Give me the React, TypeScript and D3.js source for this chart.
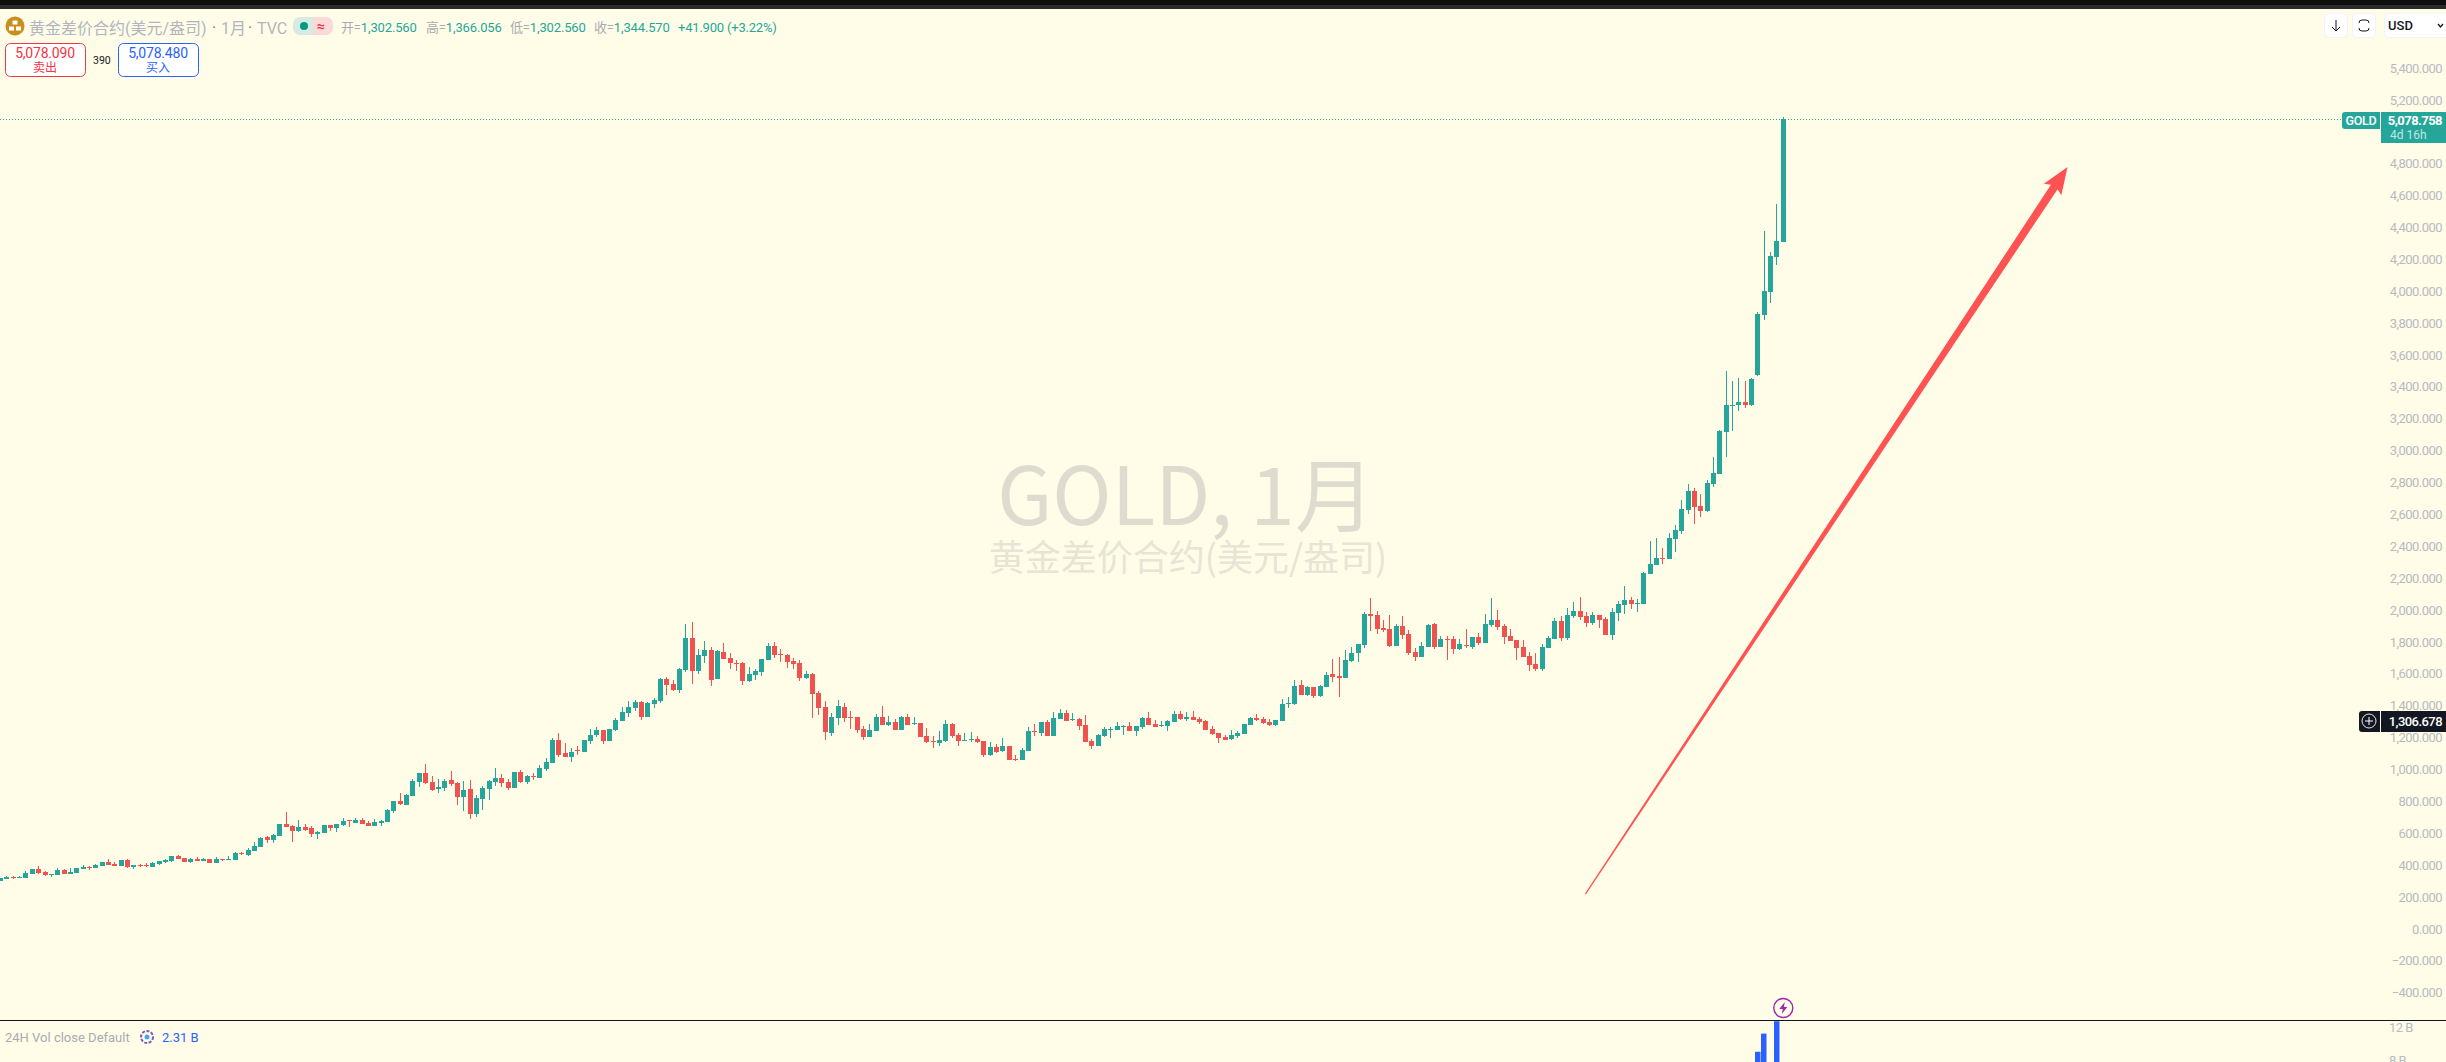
import { useEffect, useRef } from 'react';
import * as d3 from 'd3';

const WIDTH = 2446;
const HEIGHT = 1062;
const BG = '#fffde8';
const UP = '#26a69a';
const DOWN = '#ef5350';
const AXIS_TEXT = '#b8bac2';
const FONT = 'Roboto, "Noto Sans CJK SC", sans-serif';
const CJK = '"Noto Sans CJK SC", sans-serif';

// monthly candles
const opens = [
  300, 312, 327, 319, 319, 344, 375, 356, 338, 338,
  369, 344, 350, 375, 390, 381, 394, 419, 406, 394,
  432, 388, 400, 400, 388, 406, 419, 425, 457, 444,
  419, 438, 425, 438, 413, 438, 432, 432, 475, 463,
  488, 513, 576, 557, 582, 657, 645, 613, 638, 632,
  595, 601, 651, 632, 651, 680, 664, 682, 664, 645,
  664, 670, 739, 802, 777, 833, 921, 977, 921, 877,
  883, 933, 915, 827, 877, 720, 814, 877, 921,
  946, 921, 883, 984, 921, 961, 946, 1003, 1040, 1185,
  1103, 1078, 1122, 1109, 1178, 1216, 1247, 1178, 1247, 1304,
  1354, 1385, 1423, 1329, 1410, 1429, 1567, 1536, 1498, 1624,
  1824, 1617, 1711, 1749, 1567, 1737, 1699, 1668, 1668, 1555,
  1592, 1611, 1686, 1774, 1724, 1718, 1680, 1668, 1573, 1599,
  1479, 1392, 1228, 1323, 1392, 1329, 1329, 1253, 1203, 1241,
  1329, 1279, 1297, 1247, 1329, 1285, 1291, 1210, 1178, 1166,
  1178, 1285, 1216, 1178, 1185, 1191, 1178, 1090, 1140, 1116,
  1147, 1065, 1059, 1116, 1241, 1228, 1297, 1210, 1316, 1354,
  1310, 1316, 1279, 1178, 1147, 1210, 1247, 1247, 1266, 1272,
  1241, 1266, 1322, 1285, 1272, 1272, 1297, 1348, 1316, 1329,
  1316, 1304, 1253, 1228, 1203, 1191, 1209, 1222, 1279, 1322,
  1316, 1297, 1279, 1304, 1410, 1410, 1530, 1467, 1517, 1460,
  1517, 1598, 1586, 1573, 1680, 1730, 1780, 1975, 1969, 1887,
  1881, 1774, 1900, 1849, 1737, 1705, 1768, 1912, 1768, 1818,
  1818, 1755, 1780, 1768, 1831, 1793, 1906, 1937, 1900, 1837,
  1812, 1768, 1711, 1661, 1630, 1762, 1818, 1931, 1824, 1962,
  1994, 1962, 1918, 1969, 1944, 1843, 1981, 2031, 2063, 2038,
  2038, 2227, 2283, 2328, 2321, 2446, 2496, 2628, 2747, 2653,
  2621, 2791, 2854, 3116, 3280, 3286, 3304, 3286, 3475, 3851,
  3994, 4214, 4308,
];

const highs = [
  319, 331, 331, 331, 362, 375, 394, 363, 344, 381,
  375, 381, 381, 400, 394, 406, 419, 438, 419, 432,
  438, 400, 406, 413, 419, 425, 438, 457, 463, 444,
  444, 450, 444, 438, 450, 438, 457, 482, 482, 507,
  544, 576, 582, 595, 657, 732, 651, 682, 657, 645,
  613, 651, 651, 657, 695, 682, 695, 695, 676, 689,
  682, 751, 802, 852, 846, 940, 977, 1034, 958, 940,
  940, 990, 921, 927, 933, 839, 896, 933, 1009,
  971, 940, 984, 996, 965, 977, 1028, 1072, 1197, 1228,
  1166, 1134, 1147, 1185, 1254, 1266, 1247, 1254, 1323, 1392,
  1429, 1436, 1429, 1423, 1448, 1573, 1580, 1561, 1636, 1912,
  1925, 1755, 1806, 1768, 1749, 1793, 1730, 1686, 1674, 1642,
  1630, 1693, 1793, 1799, 1755, 1724, 1699, 1686, 1617, 1605,
  1492, 1429, 1354, 1436, 1417, 1366, 1329, 1272, 1285, 1348,
  1398, 1335, 1314, 1335, 1348, 1329, 1291, 1260, 1210, 1241,
  1310, 1291, 1228, 1228, 1235, 1210, 1178, 1172, 1160, 1197,
  1147, 1090, 1134, 1266, 1285, 1297, 1310, 1360, 1379, 1373,
  1354, 1323, 1341, 1191, 1222, 1266, 1266, 1297, 1279, 1297,
  1272, 1329, 1360, 1310, 1304, 1310, 1366, 1366, 1360, 1366,
  1329, 1310, 1272, 1228, 1216, 1247, 1241, 1285, 1329, 1348,
  1329, 1316, 1310, 1442, 1454, 1561, 1561, 1523, 1517, 1530,
  1611, 1693, 1705, 1749, 1768, 1787, 1987, 2075, 1994, 1937,
  1969, 1912, 1962, 1875, 1762, 1799, 1912, 1918, 1837, 1837,
  1837, 1818, 1881, 1831, 1856, 1975, 2075, 2000, 1912, 1881,
  1812, 1812, 1737, 1730, 1787, 1837, 1950, 1962, 2013, 2050,
  2082, 1987, 1987, 1969, 1956, 2013, 2056, 2150, 2082, 2069,
  2238, 2433, 2453, 2390, 2484, 2534, 2690, 2791, 2767, 2729,
  2816, 2959, 3132, 3499, 3436, 3457, 3436, 3457, 3869, 4377,
  4245, 4547, 5092,
];

const lows = [
  300, 312, 312, 319, 319, 344, 344, 331, 325, 338,
  344, 344, 350, 375, 369, 381, 394, 400, 394, 394,
  381, 375, 388, 388, 388, 400, 413, 419, 438, 419,
  413, 425, 425, 413, 413, 425, 432, 432, 463, 457,
  488, 513, 538, 538, 582, 638, 544, 607, 613, 576,
  563, 601, 613, 607, 645, 638, 664, 657, 645, 645,
  645, 670, 726, 777, 777, 833, 889, 908, 864, 852,
  864, 896, 777, 739, 689, 701, 745, 808, 896,
  890, 871, 883, 915, 909, 934, 946, 990, 1040, 1078,
  1078, 1047, 1090, 1109, 1159, 1203, 1159, 1178, 1241, 1304,
  1329, 1366, 1310, 1329, 1385, 1417, 1467, 1492, 1479, 1611,
  1536, 1599, 1668, 1523, 1567, 1693, 1630, 1617, 1530, 1548,
  1561, 1586, 1686, 1699, 1674, 1636, 1630, 1555, 1567, 1323,
  1341, 1185, 1210, 1279, 1297, 1253, 1228, 1185, 1203, 1241,
  1279, 1272, 1247, 1247, 1279, 1279, 1203, 1166, 1134, 1147,
  1172, 1197, 1147, 1178, 1172, 1166, 1078, 1084, 1103, 1109,
  1059, 1053, 1059, 1116, 1210, 1210, 1210, 1210, 1316, 1304,
  1304, 1247, 1172, 1128, 1147, 1203, 1197, 1247, 1216, 1241,
  1210, 1253, 1279, 1266, 1266, 1241, 1297, 1310, 1304, 1310,
  1285, 1247, 1216, 1166, 1184, 1184, 1197, 1222, 1279, 1304,
  1285, 1272, 1272, 1304, 1385, 1404, 1467, 1460, 1448, 1454,
  1517, 1548, 1454, 1573, 1674, 1674, 1762, 1868, 1849, 1862,
  1768, 1774, 1818, 1718, 1680, 1705, 1768, 1755, 1768, 1686,
  1724, 1749, 1762, 1755, 1780, 1793, 1893, 1875, 1787, 1806,
  1686, 1705, 1617, 1617, 1617, 1762, 1818, 1806, 1812, 1950,
  1937, 1893, 1906, 1887, 1843, 1812, 1931, 1975, 2006, 1987,
  2038, 2227, 2283, 2290, 2321, 2364, 2478, 2603, 2540, 2583,
  2614, 2771, 2854, 2959, 3123, 3248, 3268, 3280, 3468, 3819,
  3927, 4164, 4308,
];

const closes = [
  319, 325, 321, 325, 350, 375, 350, 338, 344, 369,
  344, 356, 381, 388, 383, 400, 419, 400, 394, 432,
  388, 400, 394, 394, 413, 425, 432, 457, 438, 419,
  438, 425, 438, 413, 438, 432, 438, 475, 469, 494,
  519, 570, 557, 588, 657, 638, 613, 638, 620, 595,
  607, 651, 632, 657, 676, 674, 682, 657, 645, 670,
  676, 745, 802, 783, 839, 927, 977, 915, 871, 889,
  927, 908, 827, 871, 720, 821, 883, 927, 946,
  915, 883, 984, 921, 959, 955, 1009, 1046, 1185, 1090,
  1078, 1109, 1116, 1185, 1216, 1247, 1178, 1254, 1310, 1360,
  1392, 1423, 1329, 1417, 1435, 1567, 1530, 1498, 1630, 1824,
  1617, 1718, 1749, 1561, 1743, 1693, 1668, 1661, 1555, 1599,
  1617, 1693, 1774, 1718, 1718, 1674, 1661, 1573, 1599, 1473,
  1385, 1235, 1329, 1398, 1323, 1323, 1247, 1203, 1247, 1329,
  1279, 1297, 1247, 1329, 1279, 1291, 1203, 1172, 1172, 1185,
  1285, 1210, 1178, 1185, 1191, 1172, 1090, 1140, 1109, 1147,
  1059, 1059, 1122, 1241, 1235, 1297, 1210, 1323, 1354, 1304,
  1316, 1272, 1172, 1147, 1216, 1253, 1253, 1272, 1272, 1241,
  1272, 1322, 1279, 1266, 1279, 1304, 1348, 1316, 1329, 1310,
  1297, 1247, 1222, 1197, 1184, 1216, 1228, 1285, 1322, 1310,
  1291, 1279, 1310, 1410, 1417, 1523, 1467, 1517, 1460, 1523,
  1592, 1580, 1573, 1686, 1730, 1787, 1975, 1962, 1881, 1875,
  1774, 1900, 1843, 1730, 1705, 1774, 1906, 1768, 1818, 1812,
  1755, 1787, 1774, 1831, 1793, 1912, 1937, 1893, 1831, 1806,
  1762, 1705, 1655, 1630, 1768, 1824, 1931, 1824, 1969, 1994,
  1956, 1918, 1969, 1937, 1843, 1987, 2038, 2063, 2038, 2044,
  2232, 2290, 2328, 2321, 2453, 2502, 2635, 2747, 2646, 2621,
  2798, 2861, 3123, 3286, 3286, 3304, 3286, 3450, 3858, 4001,
  4220, 4314, 5078,
];

// only the last few volume bars show in the lower pane
const volumeIndex = [277, 278, 280];
const volumeValues = [9.0e9, 11.2e9, 12.7e9];
const volumeTicks = [8e9, 12e9];

const priceTicks = d3.range(-400, 5401, 200);
const lastPrice = 5078.758;
const crossPrice = 1306.678;

// trend arrow, as [bar index, price]
const arrowStart = [249.8, 218];
const arrowTip = [325.8, 4779];

const ohlcLine = [
  ['开=', '1,302.560', 341],
  ['高=', '1,366.056', 426],
  ['低=', '1,302.560', 510],
  ['收=', '1,344.570', 594],
];

export default function App() {
  const ref = useRef<SVGSVGElement | null>(null);

  useEffect(() => {
    const svg = d3.select(ref.current);
    svg.selectAll('*').remove();

    const x = d3.scaleLinear().domain([0, opens.length - 1]).range([0.6, 1783.3]);
    const y = d3.scaleLinear().domain([5400, -400]).range([68, 992.6]);
    const yVol = d3.scaleLinear().domain([12e9, 8e9]).range([1027, 1060]);

    svg.append('rect').attr('width', WIDTH).attr('height', HEIGHT).attr('fill', BG);

    // dark strip along the top of the window
    svg.append('rect').attr('width', WIDTH).attr('height', 5).attr('fill', '#0e0e0e');
    svg.append('rect').attr('y', 5).attr('width', WIDTH).attr('height', 4).attr('fill', '#2a2a2c');

    // watermark
    svg.append('text')
      .attr('x', 1186).attr('y', 525).attr('text-anchor', 'middle')
      .attr('font-family', CJK).attr('font-size', 80).attr('fill', '#dddccf')
      .text('GOLD, 1月');
    svg.append('text')
      .attr('x', 1188).attr('y', 571).attr('text-anchor', 'middle')
      .attr('font-family', CJK).attr('font-size', 36).attr('fill', '#e6e5d6')
      .text('黄金差价合约(美元/盎司)');

    // last price line
    svg.append('line')
      .attr('x1', 0).attr('x2', 2342)
      .attr('y1', Math.round(y(lastPrice)) + 0.5).attr('y2', Math.round(y(lastPrice)) + 0.5)
      .attr('stroke', UP).attr('stroke-dasharray', '1 2');

    // candles
    const candles = d3.range(opens.length);
    const color = (i: number) => (closes[i] >= opens[i] ? UP : DOWN);
    const plot = svg.append('g');

    plot.selectAll('rect.wick').data(candles).join('rect')
      .attr('class', 'wick')
      .attr('x', (i) => Math.round(x(i) - 0.5))
      .attr('width', 1)
      .attr('y', (i) => Math.round(y(highs[i])))
      .attr('height', (i) => Math.max(1, Math.round(y(lows[i])) - Math.round(y(highs[i]))))
      .attr('fill', color);

    plot.selectAll('rect.body').data(candles).join('rect')
      .attr('class', 'body')
      .attr('x', (i) => Math.round(x(i) - 2.5))
      .attr('width', 5)
      .attr('y', (i) => Math.round(y(Math.max(opens[i], closes[i]))))
      .attr('height', (i) => Math.max(1, Math.round(y(Math.min(opens[i], closes[i]))) - Math.round(y(Math.max(opens[i], closes[i])))))
      .attr('fill', color);

    // hand drawn arrow, thin at the start and swelling towards the head
    const p0 = [x(arrowStart[0]), y(arrowStart[1])];
    const p1 = [x(arrowTip[0]), y(arrowTip[1])];
    const len = Math.hypot(p1[0] - p0[0], p1[1] - p0[1]);
    const ux = (p1[0] - p0[0]) / len;
    const uy = (p1[1] - p0[1]) / len;
    const at = (along: number, side: number) => [
      p1[0] - ux * along - uy * side,
      p1[1] - uy * along + ux * side,
    ] as [number, number];
    const arrow: [number, number][] = [
      at(len, 0.6), at(24, 4), at(27, 10.5), p1 as [number, number], at(27, -10.5), at(24, -4), at(len, -0.6),
    ];
    svg.append('path')
      .attr('d', d3.line()(arrow) + 'Z')
      .attr('fill', '#ff5252');

    // price scale
    const axis = svg.append('g')
      .attr('transform', 'translate(2442,0)')
      .call(d3.axisRight(y).tickValues(priceTicks).tickSize(0).tickFormat(d3.format(',.3f') as any));
    axis.select('.domain').remove();
    axis.selectAll('text')
      .attr('x', 0).attr('text-anchor', 'end')
      .attr('font-family', FONT).attr('font-size', 13).attr('letter-spacing', '-0.55px')
      .attr('fill', AXIS_TEXT);

    // last price tag
    svg.append('rect').attr('x', 2381).attr('y', 112).attr('width', 65).attr('height', 31).attr('fill', UP);
    svg.append('path').attr('d', 'M2380 112H2345a3 3 0 0 0 -3 3V126a3 3 0 0 0 3 3H2380Z').attr('fill', UP);
    svg.append('text').attr('x', 2361).attr('y', 125).attr('text-anchor', 'middle')
      .attr('font-family', FONT).attr('font-size', 12.5).attr('font-weight', 500).attr('letter-spacing', '-0.3px').attr('fill', '#fff')
      .text('GOLD');
    svg.append('text').attr('x', 2442).attr('y', 124.5).attr('text-anchor', 'end')
      .attr('font-family', FONT).attr('font-size', 13).attr('font-weight', 700).attr('letter-spacing', '-0.55px').attr('fill', '#fff')
      .text('5,078.758');
    svg.append('text').attr('x', 2390).attr('y', 138.5)
      .attr('font-family', FONT).attr('font-size', 12).attr('fill', '#bfe6e1')
      .text('4d 16h');

    // crosshair price tag
    const crossY = Math.round(y(crossPrice));
    svg.append('rect').attr('x', 2381).attr('y', crossY - 10).attr('width', 65).attr('height', 21).attr('fill', '#131722');
    svg.append('path').attr('d', `M2380 ${crossY - 10}H2362a3 3 0 0 0 -3 3V${crossY + 8}a3 3 0 0 0 3 3H2380Z`).attr('fill', '#131722');
    svg.append('circle').attr('cx', 2369).attr('cy', crossY).attr('r', 7).attr('fill', 'none').attr('stroke', '#e8e8e8');
    svg.append('path').attr('d', `M2365 ${crossY}H2373M2369 ${crossY - 4}V${crossY + 4}`).attr('stroke', '#fff');
    svg.append('text').attr('x', 2442).attr('y', crossY + 5).attr('text-anchor', 'end')
      .attr('font-family', FONT).attr('font-size', 13).attr('font-weight', 500).attr('letter-spacing', '-0.55px').attr('fill', '#fff')
      .text('1,306.678');

    // volume pane
    svg.append('rect').attr('x', 0).attr('y', 1020).attr('width', WIDTH).attr('height', 1).attr('fill', '#14171f');
    svg.selectAll('rect.vol').data(volumeIndex).join('rect')
      .attr('class', 'vol')
      .attr('x', (d) => Math.round(x(d) - 3))
      .attr('width', 5.5)
      .attr('y', (_, i) => Math.max(1021, yVol(volumeValues[i])))
      .attr('height', (_, i) => HEIGHT - Math.max(1021, yVol(volumeValues[i])))
      .attr('fill', '#2962ff');
    const volAxis = svg.append('g')
      .attr('transform', 'translate(2389,0)')
      .call(d3.axisRight(yVol).tickValues(volumeTicks).tickSize(0).tickFormat(((d: number) => `${d / 1e9} B`) as any));
    volAxis.select('.domain').remove();
    volAxis.selectAll('text')
      .attr('x', 0).attr('font-family', FONT).attr('font-size', 13).attr('letter-spacing', '-0.5px').attr('fill', AXIS_TEXT);

    // lightning marker over the last bar
    const bolt = svg.append('g').attr('transform', `translate(${x(opens.length - 1)},1008)`);
    bolt.append('circle').attr('r', 9.5).attr('fill', BG).attr('stroke', '#9c27b0').attr('stroke-width', 1.4);
    bolt.append('path').attr('d', 'M1.5 -6L-4 1H-0.5L-1.5 6L4 -1H0.5Z').attr('fill', '#9c27b0');

    svg.append('text').attr('x', 5).attr('y', 1042)
      .attr('font-family', FONT).attr('font-size', 13).attr('fill', '#a9abb3')
      .text('24H Vol close Default');
    svg.append('circle').attr('cx', 147).attr('cy', 1037).attr('r', 6).attr('fill', 'none').attr('stroke', '#7e57c2').attr('stroke-width', 2).attr('stroke-dasharray', '3 1.5');
    svg.append('circle').attr('cx', 147).attr('cy', 1037).attr('r', 2.5).attr('fill', '#42a5f5');
    svg.append('text').attr('x', 162).attr('y', 1042)
      .attr('font-family', FONT).attr('font-size', 13).attr('fill', '#2962ff')
      .text('2.31 B');

    // header line
    const head = svg.append('g');
    head.append('circle').attr('cx', 15).attr('cy', 26).attr('r', 9.5).attr('fill', '#c98f1c');
    head.selectAll('rect.ingot').data([[12.5, 20.5], [9, 26.5], [16, 26.5]]).join('rect')
      .attr('class', 'ingot')
      .attr('x', (d) => d[0]).attr('y', (d) => d[1]).attr('width', 5).attr('height', 4).attr('fill', '#fff');
    const label = (t: string, xPos: number, yPos: number, fill: string, size = 13) =>
      head.append('text').attr('x', xPos).attr('y', yPos)
        .attr('font-family', FONT).attr('font-size', size).attr('fill', fill).text(t);
    label('黄金差价合约(美元/盎司)', 29, 34, '#b2b5be', 16);
    label('·', 212, 33, '#787b86', 16);
    label('1月', 221, 34, '#b2b5be', 16);
    label('·', 248, 33, '#787b86', 16);
    label('TVC', 257, 34, '#b2b5be', 16);

    head.append('path').attr('d', 'M313 17H300a7 7 0 0 0 -7 7V28a7 7 0 0 0 7 7H313Z').attr('fill', '#d6ebe2');
    head.append('path').attr('d', 'M313 17H326a7 7 0 0 1 7 7V28a7 7 0 0 1 -7 7H313Z').attr('fill', '#fbd9d8');
    head.append('circle').attr('cx', 304).attr('cy', 26).attr('r', 4).attr('fill', '#089981');
    label('≈', 317, 31, '#f23645', 14).attr('font-weight', 700);

    ohlcLine.forEach(([name, value, xPos]) => {
      const t = head.append('text').attr('x', xPos).attr('y', 32)
        .attr('font-family', FONT).attr('font-size', 13).attr('letter-spacing', '-0.15px');
      t.append('tspan').attr('fill', '#a9abb3').text(name as string);
      t.append('tspan').attr('fill', UP).text(value as string);
    });
    label('+41.900 (+3.22%)', 678, 32, UP, 13).attr('letter-spacing', '-0.2px');

    // sell and buy boxes
    const box = (bx: number, stroke: string, price: string, word: string, wordFill: string) => {
      head.append('rect').attr('x', bx + 0.5).attr('y', 43.5).attr('width', 80).attr('height', 33).attr('rx', 5)
        .attr('fill', '#fff').attr('stroke', stroke);
      head.append('text').attr('x', bx + 40).attr('y', 58).attr('text-anchor', 'middle')
        .attr('font-family', FONT).attr('font-size', 14).attr('letter-spacing', '-0.2px').attr('fill', stroke).text(price);
      head.append('text').attr('x', bx + 40).attr('y', 72).attr('text-anchor', 'middle')
        .attr('font-family', CJK).attr('font-size', 12).attr('fill', wordFill).text(word);
    };
    box(5, '#f23645', '5,078.090', '卖出', '#f23645');
    box(118, '#2962ff', '5,078.480', '买入', '#2962ff');
    label('390', 93, 64, '#131722', 10.5);

    // top right buttons
    const button = (bx: number, w: number) =>
      svg.append('rect').attr('x', bx + 0.5).attr('y', 13.5).attr('width', w).attr('height', 24).attr('rx', 4)
        .attr('fill', '#fff').attr('stroke', '#f0f3fa');
    button(2324, 23);
    button(2352, 23);
    button(2384, 68);
    svg.append('path').attr('d', 'M2336 20V31M2332 27L2336 31L2340 27').attr('fill', 'none').attr('stroke', '#131722');
    svg.append('path').attr('d', 'M2362 20H2366a3 3 0 0 1 3 3M2369 28a3 3 0 0 1 -3 3H2362a3 3 0 0 1 -3 -3M2359 23a3 3 0 0 1 3 -3')
      .attr('fill', 'none').attr('stroke', '#131722');
    svg.append('text').attr('x', 2388).attr('y', 30)
      .attr('font-family', FONT).attr('font-size', 13).attr('font-weight', 500).attr('fill', '#131722')
      .text('USD');
    svg.append('path').attr('d', 'M2438 24L2440.5 27L2443 24').attr('fill', 'none').attr('stroke', '#131722').attr('stroke-width', 1.3);
  }, []);

  return (
    <svg
      ref={ref}
      width={WIDTH}
      height={HEIGHT}
      viewBox={`0 0 ${WIDTH} ${HEIGHT}`}
      style={{ position: 'absolute', left: 0, top: 0, display: 'block' }}
    />
  );
}
